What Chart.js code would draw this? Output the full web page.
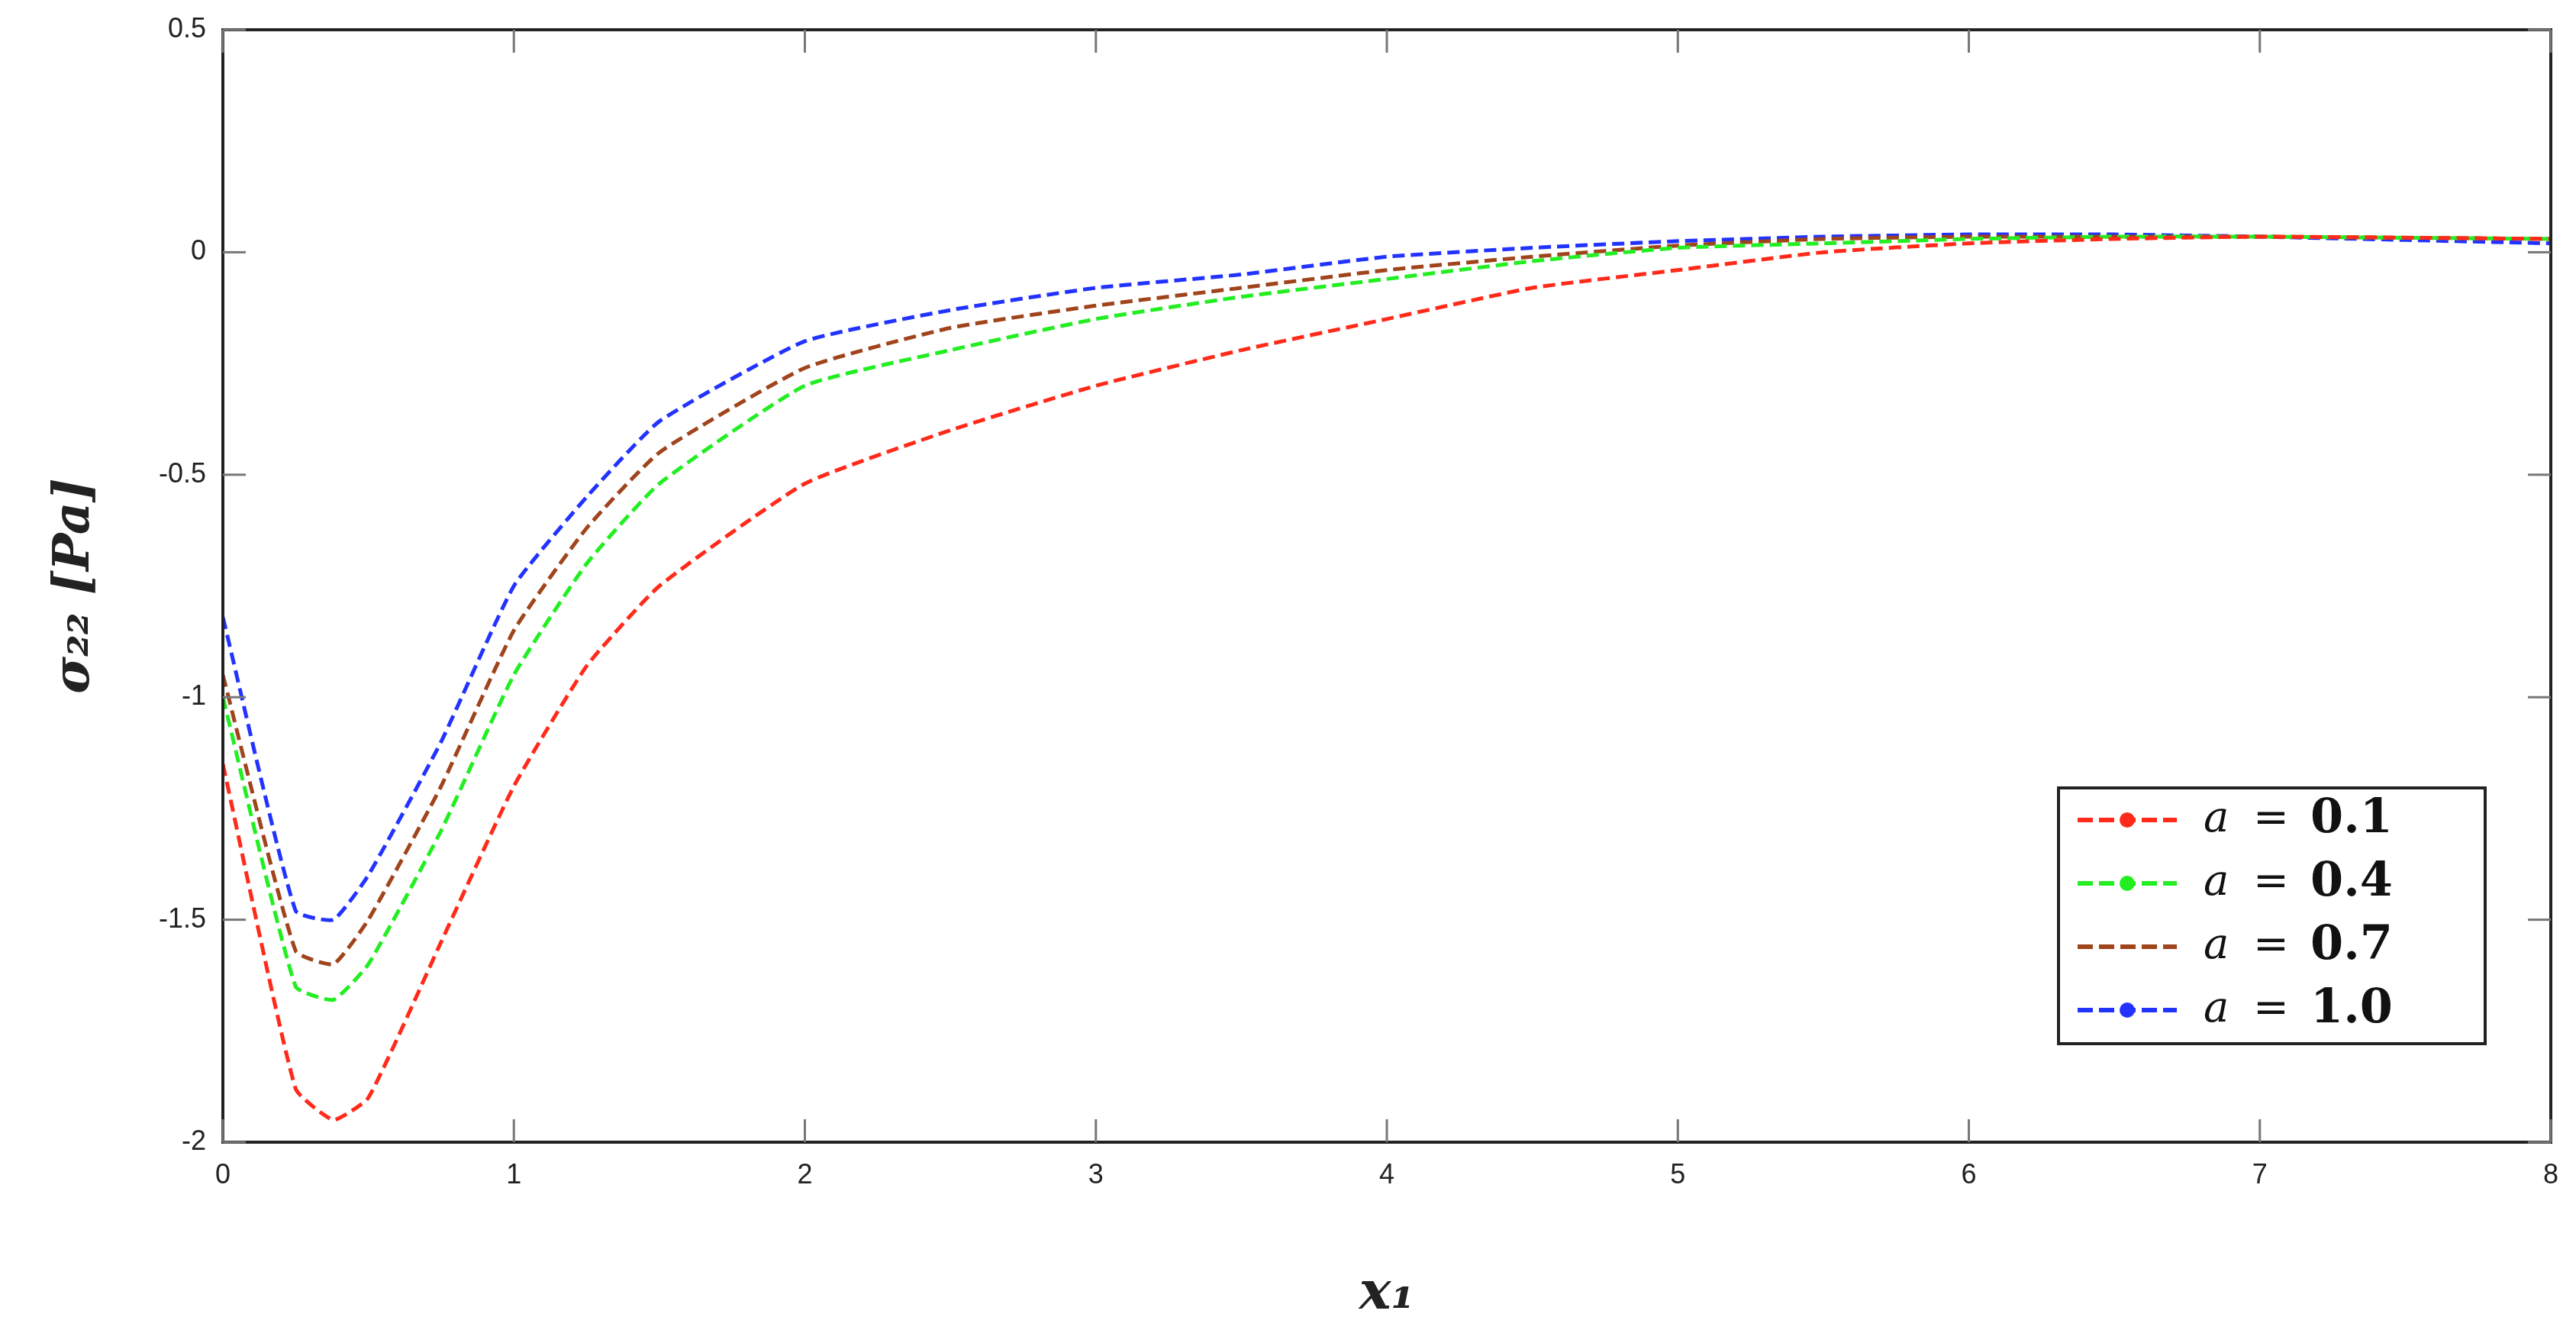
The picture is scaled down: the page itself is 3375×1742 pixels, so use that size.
<!DOCTYPE html>
<html>
<head>
<meta charset="utf-8">
<script src="https://cdn.jsdelivr.net/npm/chart.js@4"></script>
<style>
  html, body { margin: 0; padding: 0; background: #fff; }
  canvas { display: block; }
</style>
</head>
<body>
<canvas id="stressChart" width="3375" height="1742"></canvas>
<script>
// x positions along the axis
const xValues = [0, 0.25, 0.38, 0.5, 0.75, 1, 1.25, 1.5, 2, 2.5, 3, 3.5, 4, 4.5, 5, 5.5, 6, 6.5, 7, 8];

// sigma_22 for each value of a
const seriesA01 = [-1.15, -1.88, -1.95, -1.9, -1.55, -1.2, -0.93, -0.75, -0.52, -0.4, -0.3, -0.22, -0.15, -0.08, -0.04, 0, 0.02, 0.03, 0.035, 0.03];
const seriesA04 = [-1.0, -1.65, -1.68, -1.6, -1.3, -0.95, -0.7, -0.52, -0.3, -0.22, -0.15, -0.1, -0.06, -0.02, 0.01, 0.02, 0.03, 0.035, 0.035, 0.03];
const seriesA07 = [-0.95, -1.57, -1.6, -1.5, -1.2, -0.85, -0.62, -0.45, -0.26, -0.17, -0.12, -0.08, -0.04, -0.01, 0.015, 0.03, 0.035, 0.035, 0.035, 0.03];
const seriesA10 = [-0.82, -1.48, -1.5, -1.4, -1.1, -0.75, -0.55, -0.38, -0.2, -0.13, -0.08, -0.05, -0.01, 0.01, 0.025, 0.035, 0.04, 0.04, 0.035, 0.02];

const seriesLabels = ['a = 0.1', 'a = 0.4', 'a = 0.7', 'a = 1.0'];
const seriesColors = ['#ff2a1a', '#22ee22', '#a0441c', '#2233ff'];

const xTicks = [0, 1, 2, 3, 4, 5, 6, 7, 8];
const yTicks = [0.5, 0, -0.5, -1, -1.5, -2];

function toPoints(ys) {
    return xValues.map((x, i) => ({ x: x, y: ys[i] }));
}

// Box frame, inward ticks and legend
const framePlugin = {
    id: 'frame',
    afterDraw(chart) {
        const c = chart.ctx;
        const a = chart.chartArea;
        const xs = chart.scales.x, ys = chart.scales.y;
        c.save();
        c.strokeStyle = '#222';
        c.lineWidth = 4;
        c.strokeRect(a.left, a.top, a.right - a.left, a.bottom - a.top);
        c.lineWidth = 3;
        c.strokeStyle = '#777';
        xTicks.forEach(t => {
            const px = xs.getPixelForValue(t);
            c.beginPath(); c.moveTo(px, a.bottom); c.lineTo(px, a.bottom - 30); c.stroke();
            c.beginPath(); c.moveTo(px, a.top); c.lineTo(px, a.top + 30); c.stroke();
        });
        yTicks.forEach(t => {
            const py = ys.getPixelForValue(t);
            c.beginPath(); c.moveTo(a.left, py); c.lineTo(a.left + 30, py); c.stroke();
            c.beginPath(); c.moveTo(a.right, py); c.lineTo(a.right - 30, py); c.stroke();
        });

        // legend
        const lx = 2697, ly = 1032, lw = 559, lh = 335;
        c.fillStyle = '#fff';
        c.fillRect(lx, ly, lw, lh);
        c.strokeStyle = '#222';
        c.lineWidth = 4;
        c.strokeRect(lx, ly, lw, lh);
        seriesLabels.forEach((label, i) => {
            const cy = ly + 42 + i * 83;
            c.strokeStyle = seriesColors[i];
            c.lineWidth = 6;
            c.setLineDash([20, 8]);
            c.beginPath(); c.moveTo(lx + 25, cy); c.lineTo(lx + 155, cy); c.stroke();
            c.setLineDash([]);
            if (i !== 2) {
                c.fillStyle = seriesColors[i];
                c.beginPath(); c.arc(lx + 90, cy, 10, 0, Math.PI * 2); c.fill();
            }
            c.fillStyle = '#111';
            c.textBaseline = 'middle';
            c.font = 'italic 56px "DejaVu Serif"';
            c.fillText('a', lx + 190, cy);
            c.font = '56px "DejaVu Serif"';
            c.fillText('=', lx + 255, cy);
            c.font = 'bold 62px "DejaVu Serif"';
            c.fillText(label.split('= ')[1], lx + 330, cy);
        });
        c.restore();
    }
};

new Chart(document.getElementById('stressChart'), {
    type: 'line',
    data: {
        datasets: [seriesA01, seriesA04, seriesA07, seriesA10].map((ys, i) => ({
            label: seriesLabels[i],
            data: toPoints(ys),
            borderColor: seriesColors[i],
            borderWidth: 5,
            borderDash: [16, 8],
            pointRadius: 0,
            tension: 0.15,
            fill: false
        }))
    },
    options: {
        responsive: false,
        animation: false,
        layout: { padding: { top: 39, right: 33, left: 55, bottom: 0 } },
        plugins: {
            legend: { display: false },
            tooltip: { enabled: false }
        },
        scales: {
            x: {
                type: 'linear',
                min: 0, max: 8,
                afterFit: s => { s.height = 246; },
                afterBuildTicks: s => { s.ticks = xTicks.map(v => ({ value: v })); },
                grid: { display: false },
                border: { display: false },
                ticks: { color: '#222', font: { size: 36, family: 'Liberation Sans' }, padding: 14 },
                title: {
                    display: true,
                    text: 'x₁',
                    color: '#222',
                    font: { size: 70, weight: 'bold', style: 'italic', family: 'DejaVu Serif' },
                    padding: { top: 10 }
                }
            },
            y: {
                type: 'linear',
                min: -2, max: 0.5,
                afterFit: s => { s.width = 237; },
                afterBuildTicks: s => { s.ticks = yTicks.map(v => ({ value: v })); },
                grid: { display: false },
                border: { display: false },
                ticks: {
                    color: '#222',
                    font: { size: 36, family: 'Liberation Sans' },
                    padding: 14,
                    callback: v => String(v)
                },
                title: {
                    display: true,
                    text: 'σ₂₂ [Pa]',
                    color: '#222',
                    font: { size: 66, weight: 'bold', style: 'italic', family: 'DejaVu Serif' },
                    padding: { bottom: 20 }
                }
            }
        }
    },
    plugins: [framePlugin]
});
</script>
</body>
</html>
